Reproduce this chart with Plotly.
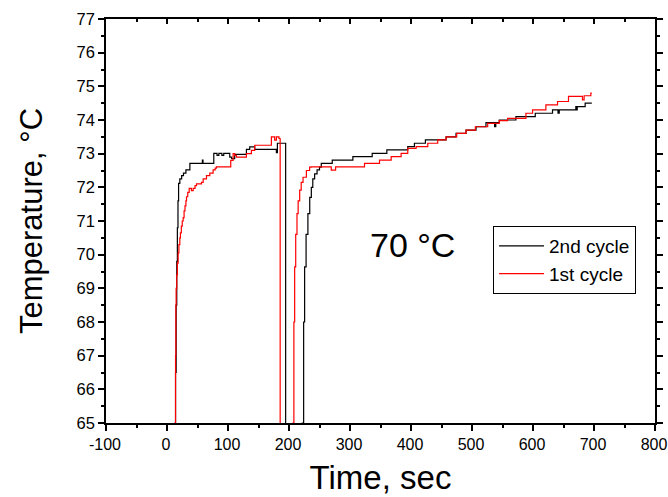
import plotly.graph_objects as go

# 2nd cycle (black)
t_2nd = [12, 13, 14, 15, 16, 17, 18, 19, 21, 24, 27, 31, 37.5, 58, 59, 76.7, 82, 85, 90, 93, 102.9, 106, 111,
         130.2, 135.6, 143.8, 179.3, 181, 194.5,
         221.8, 224, 225.6, 228, 231, 234, 236.6, 239, 242, 246, 250, 252.9, 270.9, 304.7,
         336.4, 360.4, 394.7, 405.6, 423.6, 457.5, 473.8, 490.2, 506.6, 522.9, 537, 539,
         544.7, 572, 603.7, 632, 641, 643, 670.2, 671.5, 672.5, 685.5, 696.4]
T_2nd = [60, 64, 66.5, 68.5, 69.8, 70.8, 71.6, 72.12, 72.25, 72.35, 72.42, 72.52, 72.71, 72.81, 72.71, 73.01, 72.95, 73.01, 72.95, 73.01, 72.9, 72.85, 72.98,
         73.13, 73.2, 73.13, 73.03, 73.31, 60,
         65, 68, 69.64, 70.6, 71.22, 71.7, 72.0, 72.25, 72.4, 72.52, 72.6, 72.71, 72.81, 72.91,
         73.01, 73.11, 73.21, 73.31, 73.41, 73.5, 73.6, 73.7, 73.8, 73.92, 73.8, 73.92,
         74.0, 74.1, 74.2, 74.3, 74.2, 74.3, 74.4, 74.3, 74.4, 74.5, 74.5]

# 1st cycle (red)
t_1st = [12, 13, 14, 14.5, 15, 16, 17, 18.3, 19.5, 21, 22, 23.5, 25, 26.5, 28, 29.5, 31, 32, 34, 36.4,
         40, 42.9, 46, 48.4, 56.5, 59.3, 64.7, 70.2, 75.6, 79, 81,
         104.5, 108.4, 111, 113.8, 130.2, 138.4, 143.8, 171.1, 176.5, 179.3, 183.6, 185.5,
         206.5, 208, 209.3, 211, 213.1, 215, 217.5, 220, 223, 228.5, 233.8, 236.5, 269.3, 276.4,
         323.8, 348.4, 367.5, 383.8, 394.7, 408.4, 427.5, 443.8, 457.5, 474.9, 490.2, 505.5,
         525.7, 544.7, 558.4, 588.4, 599.3, 621.1, 640.2, 658.2, 681.1, 683.8, 694.8, 696.4]
T_1st = [60, 65, 67, 68.5, 69.0, 69.4, 69.75, 70.05, 70.3, 70.5, 70.65, 70.85, 71.0, 71.1, 71.3, 71.45, 71.6, 71.72, 71.85, 71.97,
         71.9, 71.97, 72.05, 72.1, 72.15, 72.25, 72.35, 72.42, 72.52, 72.57, 72.61,
         72.8, 73.0, 72.95, 72.9, 73.0, 73.1, 73.25, 73.5, 73.4, 73.5, 73.45, 60,
         65, 68, 69.64, 70.6, 71.22, 71.6, 71.92, 72.15, 72.3, 72.5, 72.6, 72.61, 72.51, 72.61,
         72.71, 72.81, 72.91, 73.01, 73.16, 73.21, 73.31, 73.41, 73.5, 73.6, 73.7, 73.8,
         73.9, 73.98, 74.05, 74.2, 74.3, 74.45, 74.55, 74.7, 74.6, 74.72, 74.8, 74.8]

x_range = [-100, 800]
y_range = [65, 77]
x_tickvals = [-100, 0, 100, 200, 300, 400, 500, 600, 700, 800]
x_ticktext = ["-100", "0", "100", "200", "300", "400", "500", "600", "700", "800"]

FONT = "Liberation Sans, Arial, sans-serif"

fig = go.Figure()
fig.add_trace(go.Scatter(x=t_2nd, y=T_2nd, mode="lines", name="2nd cycle",
                         line=dict(color="black", width=1.2, shape="hv")))
fig.add_trace(go.Scatter(x=t_1st, y=T_1st, mode="lines", name="1st cycle",
                         line=dict(color="#ff0000", width=1.2, shape="hv")))
# carrier for top axis (inward ticks)
fig.add_trace(go.Scatter(x=[None], y=[None], xaxis="x2", showlegend=False, hoverinfo="skip"))

fig.update_layout(
    width=668, height=497,
    margin=dict(l=106, r=13, t=19, b=74, autoexpand=False),
    paper_bgcolor="white", plot_bgcolor="white",
    font=dict(family=FONT, color="black"),
    showlegend=True,
    legend=dict(x=0.705, y=0.4876, xanchor="left", yanchor="top",
                bgcolor="white", bordercolor="black", borderwidth=1,
                font=dict(size=19, family=FONT), itemwidth=45,
                tracegroupgap=0),
    xaxis=dict(range=x_range, tickvals=x_tickvals, ticktext=x_ticktext,
               showgrid=False, zeroline=False, automargin=False, ticklabeloverflow="allow",
               ticklabelshift=-1,
               showline=True, linecolor="black", linewidth=1.5, mirror=True,
               ticks="outside", ticklen=6, tickwidth=1.5, tickcolor="black",
               minor=dict(dtick=50, ticks="outside", ticklen=3, tickwidth=1.5, tickcolor="black"),
               tickfont=dict(size=16, family=FONT),
               title=dict(text="Time, sec", font=dict(size=33, family=FONT), standoff=14)),
    xaxis2=dict(range=x_range, overlaying="x", side="top", anchor="y", dtick=100, tick0=0,
                showgrid=False, zeroline=False, showline=False, showticklabels=False,
                ticks="inside", ticklen=5, tickwidth=1.5, tickcolor="black",
                minor=dict(dtick=50, ticks="inside", ticklen=3, tickwidth=1.5, tickcolor="black")),
    yaxis=dict(range=y_range, dtick=1, tick0=65, showgrid=False, zeroline=False, automargin=False,
               ticklabeloverflow="allow",
               showline=True, linecolor="black", linewidth=1.5, mirror="ticks",
               ticks="outside", ticklen=6, tickwidth=1.5, tickcolor="black",
               minor=dict(dtick=0.5, ticks="outside", ticklen=3, tickwidth=1.5, tickcolor="black"),
               tickfont=dict(size=16.5, family=FONT),
               title=dict(text="Temperature, °C", font=dict(size=31, family=FONT), standoff=25)),
    annotations=[dict(x=402, y=70.3, xref="x", yref="y", text="70 °C", showarrow=False,
                      font=dict(size=34, family=FONT, color="black"),
                      xanchor="center", yanchor="middle")],
)

fig.write_html("out.html")
